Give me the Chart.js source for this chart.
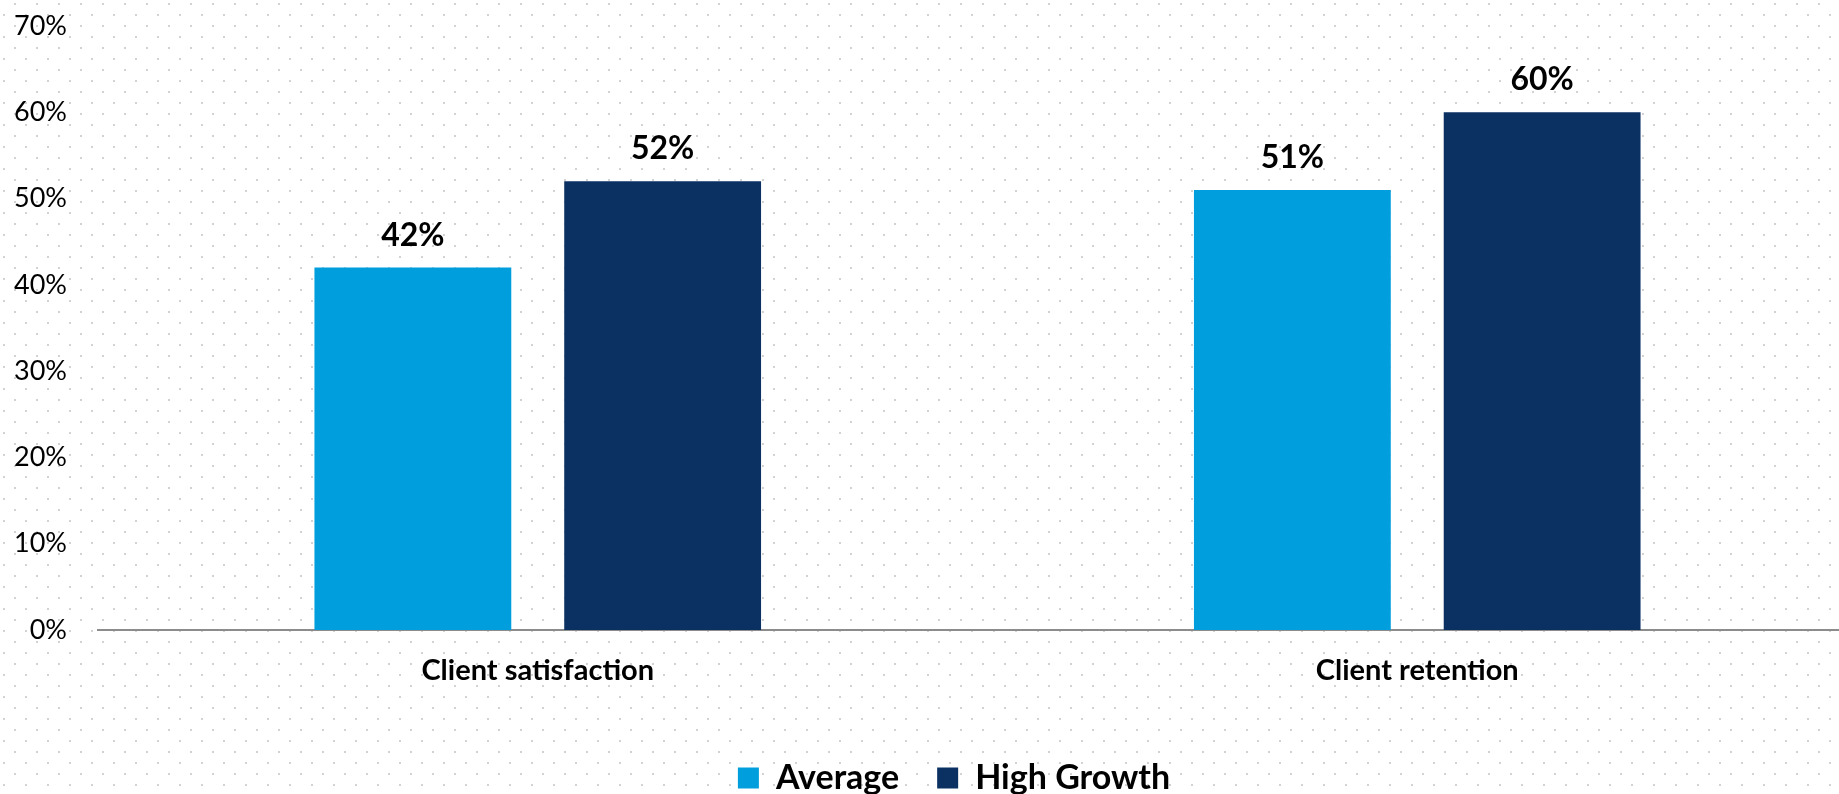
<!DOCTYPE html>
<html>
<head>
<meta charset="utf-8">
<script src="https://cdn.jsdelivr.net/npm/chart.js@4"></script>
<style>
    html, body {
        margin: 0;
        padding: 0;
        overflow: hidden;
        background: #ffffff;
    }
    #wrap {
        position: relative;
        width: 1839px;
        height: 794px;
        overflow: hidden;
        background-color: #ffffff;
        background-image: url("data:image/svg+xml;utf8,<svg xmlns='http://www.w3.org/2000/svg' width='22' height='22'><rect x='14' y='3' width='2' height='2' fill='%23d2d2d2'/><rect x='3' y='14' width='2' height='2' fill='%23d2d2d2'/></svg>");
        background-repeat: repeat;
    }
    #chart {
        position: absolute;
        left: 0;
        top: 0;
    }
</style>
</head>
<body>
<div id="wrap">
    <canvas id="chart" width="1860" height="810"></canvas>
</div>
<script>
// Chart data
const categories = ['Client satisfaction', 'Client retention'];
const averageValues = [42, 51];
const highGrowthValues = [52, 60];
const seriesNames = ['Average', 'High Growth'];
const yTicks = [0, 10, 20, 30, 40, 50, 60, 70];

const FONT = 'Lato, "Open Sans", sans-serif';

// Draw the value above each bar
const valueLabels = {
    id: 'valueLabels',
    afterDatasetsDraw(chart) {
        const ctx = chart.ctx;
        ctx.save();
        ctx.font = 'bold 32px ' + FONT;
        ctx.fillStyle = '#000000';
        ctx.textAlign = 'center';
        ctx.textBaseline = 'alphabetic';
        chart.data.datasets.forEach((dataset, i) => {
            const meta = chart.getDatasetMeta(i);
            meta.data.forEach((bar, j) => {
                ctx.fillText(dataset.data[j] + '%', bar.x, bar.y - 22);
            });
        });
        ctx.restore();
    }
};

// Legend sits a bit left of the plot centre, like the original
const shiftLegend = {
    id: 'shiftLegend',
    afterLayout(chart) {
        chart.legend.left += 51;
    }
};

new Chart(document.getElementById('chart'), {
    type: 'bar',
    data: {
        labels: categories,
        datasets: [
            {
                label: seriesNames[0],
                data: averageValues,
                backgroundColor: '#009edc',
                borderWidth: 0,
                categoryPercentage: 0.568,
                barPercentage: 0.788
            },
            {
                label: seriesNames[1],
                data: highGrowthValues,
                backgroundColor: '#0b3163',
                borderWidth: 0,
                categoryPercentage: 0.568,
                barPercentage: 0.788
            }
        ]
    },
    options: {
        responsive: false,
        animation: false,
        layout: {
            padding: { left: 0, right: 3, top: 26, bottom: 5 }
        },
        plugins: {
            tooltip: { enabled: false },
            legend: {
                display: true,
                position: 'bottom',
                labels: {
                    color: '#000000',
                    font: { family: FONT, size: 34, weight: 'bold' },
                    boxWidth: 21,
                    boxHeight: 21,
                    padding: 38
                }
            }
        },
        scales: {
            x: {
                offset: true,
                grid: { display: false, drawTicks: false },
                border: { display: true, color: '#8c8c8c', width: 2 },
                ticks: {
                    color: '#000000',
                    font: { family: FONT, size: 29, weight: 'bold' },
                    padding: 23,
                    maxRotation: 0
                },
                afterFit(scale) {
                    scale.height = 93;
                }
            },
            y: {
                min: 0,
                max: 70,
                // tick marks hidden, their length only spaces the labels
                grid: { display: false, drawTicks: true, tickLength: 31 },
                border: { display: false },
                afterBuildTicks(scale) {
                    scale.ticks = yTicks.map(v => ({ value: v }));
                },
                ticks: {
                    color: '#000000',
                    font: { family: FONT, size: 27 },
                    padding: 0,
                    callback: value => value + '%'
                },
                afterFit(scale) {
                    scale.width = 98;
                }
            }
        }
    },
    plugins: [valueLabels, shiftLegend]
});
</script>
</body>
</html>
